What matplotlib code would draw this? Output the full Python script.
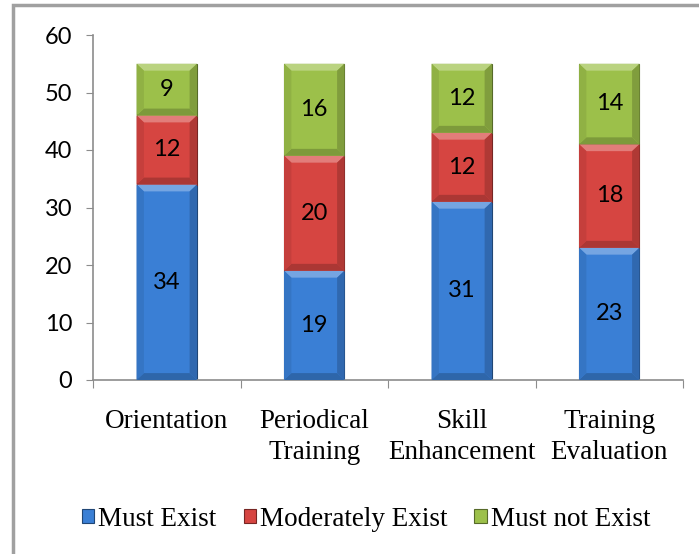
import numpy as np
import matplotlib.pyplot as plt
from matplotlib.patches import Polygon, Rectangle
import matplotlib.colors as mcolors

# data
categories = ['Orientation', 'Periodical\nTraining', 'Skill\nEnhancement', 'Training\nEvaluation']
series_names = ['Must Exist', 'Moderately Exist', 'Must not Exist']
must_exist = [34, 19, 31, 23]
moderately_exist = [12, 20, 12, 18]
must_not_exist = [9, 16, 12, 14]
colors = ['#3a7fd5', '#d64541', '#9cc04a']

fig = plt.figure(figsize=(6.99, 5.54), dpi=100)
ax = fig.add_axes([93 / 699, 1 - 380 / 554, 590 / 699, 345 / 554])

# grey frame around the chart
fig.patches.append(Rectangle((13 / 699, -0.05), 1.1, 1 - 5 / 554 + 0.05, transform=fig.transFigure,
                             fill=False, edgecolor='#a0a0a0', linewidth=2.5))

x = np.arange(len(categories))
width = 0.41
bevel_x = 0.05
bevel_y = 1.2


def shade(c, f):
    r, g, b = mcolors.to_rgb(c)
    if f > 1:
        return (r + (1 - r) * (f - 1), g + (1 - g) * (f - 1), b + (1 - b) * (f - 1))
    return (r * f, g * f, b * f)


bottom = np.zeros(len(categories))
for vals, col, name in zip([must_exist, moderately_exist, must_not_exist], colors, series_names):
    bars = ax.bar(x, vals, width, bottom=bottom, color=col, edgecolor=shade(col, 0.55),
                  linewidth=0.8, label=name, zorder=2)
    for xi, b, v in zip(x, bottom, vals):
        l, r = xi - width / 2, xi + width / 2
        t = b + v
        # bevel pieces
        ax.add_patch(Polygon([(l, t), (r, t), (r - bevel_x, t - bevel_y), (l + bevel_x, t - bevel_y)],
                             closed=True, facecolor=shade(col, 1.3), edgecolor='none', zorder=3))
        ax.add_patch(Polygon([(l, b), (r, b), (r - bevel_x, b + bevel_y), (l + bevel_x, b + bevel_y)],
                             closed=True, facecolor=shade(col, 0.8), edgecolor='none', zorder=3))
        ax.add_patch(Polygon([(l, b), (l, t), (l + bevel_x, t - bevel_y), (l + bevel_x, b + bevel_y)],
                             closed=True, facecolor=shade(col, 0.92), edgecolor='none', zorder=3))
        ax.add_patch(Polygon([(r, b), (r, t), (r - bevel_x, t - bevel_y), (r - bevel_x, b + bevel_y)],
                             closed=True, facecolor=shade(col, 0.82), edgecolor='none', zorder=3))
        ax.text(xi, b + v / 2, str(v), ha='center', va='center', fontsize=17,
                family='Lato', zorder=4)
    bottom += np.array(vals)

ax.set_xlim(-0.5, len(categories) - 0.5)
ax.set_ylim(0, 60)
ax.set_yticks(range(0, 61, 10))
ax.tick_params(axis='y', labelsize=17, length=5, color='#8c8c8c', pad=10)
for lab in ax.get_yticklabels():
    lab.set_family('Lato')

# category labels between boundary ticks
ax.set_xticks(np.arange(-0.5, len(categories) + 0.5, 1))
ax.set_xticklabels([])
ax.set_xticks(x, minor=True)
ax.set_xticklabels(categories, minor=True, fontsize=19.5, family='Liberation Serif', linespacing=1.3)
ax.tick_params(axis='x', which='major', length=6, color='#8c8c8c')
ax.tick_params(axis='x', which='minor', length=0, pad=21)

for s in ['top', 'right']:
    ax.spines[s].set_visible(False)
for s in ['left', 'bottom']:
    ax.spines[s].set_color('#8c8c8c')
    ax.spines[s].set_linewidth(1.2)

leg = fig.legend(loc='center', bbox_to_anchor=(366 / 699, 1 - 519 / 554), ncol=3, frameon=False,
                 prop={'family': 'Liberation Serif', 'size': 19.5}, handlelength=0.45, handleheight=0.45,
                 handletextpad=0.15, columnspacing=1.0)

fig.savefig('out.png', dpi=100)
